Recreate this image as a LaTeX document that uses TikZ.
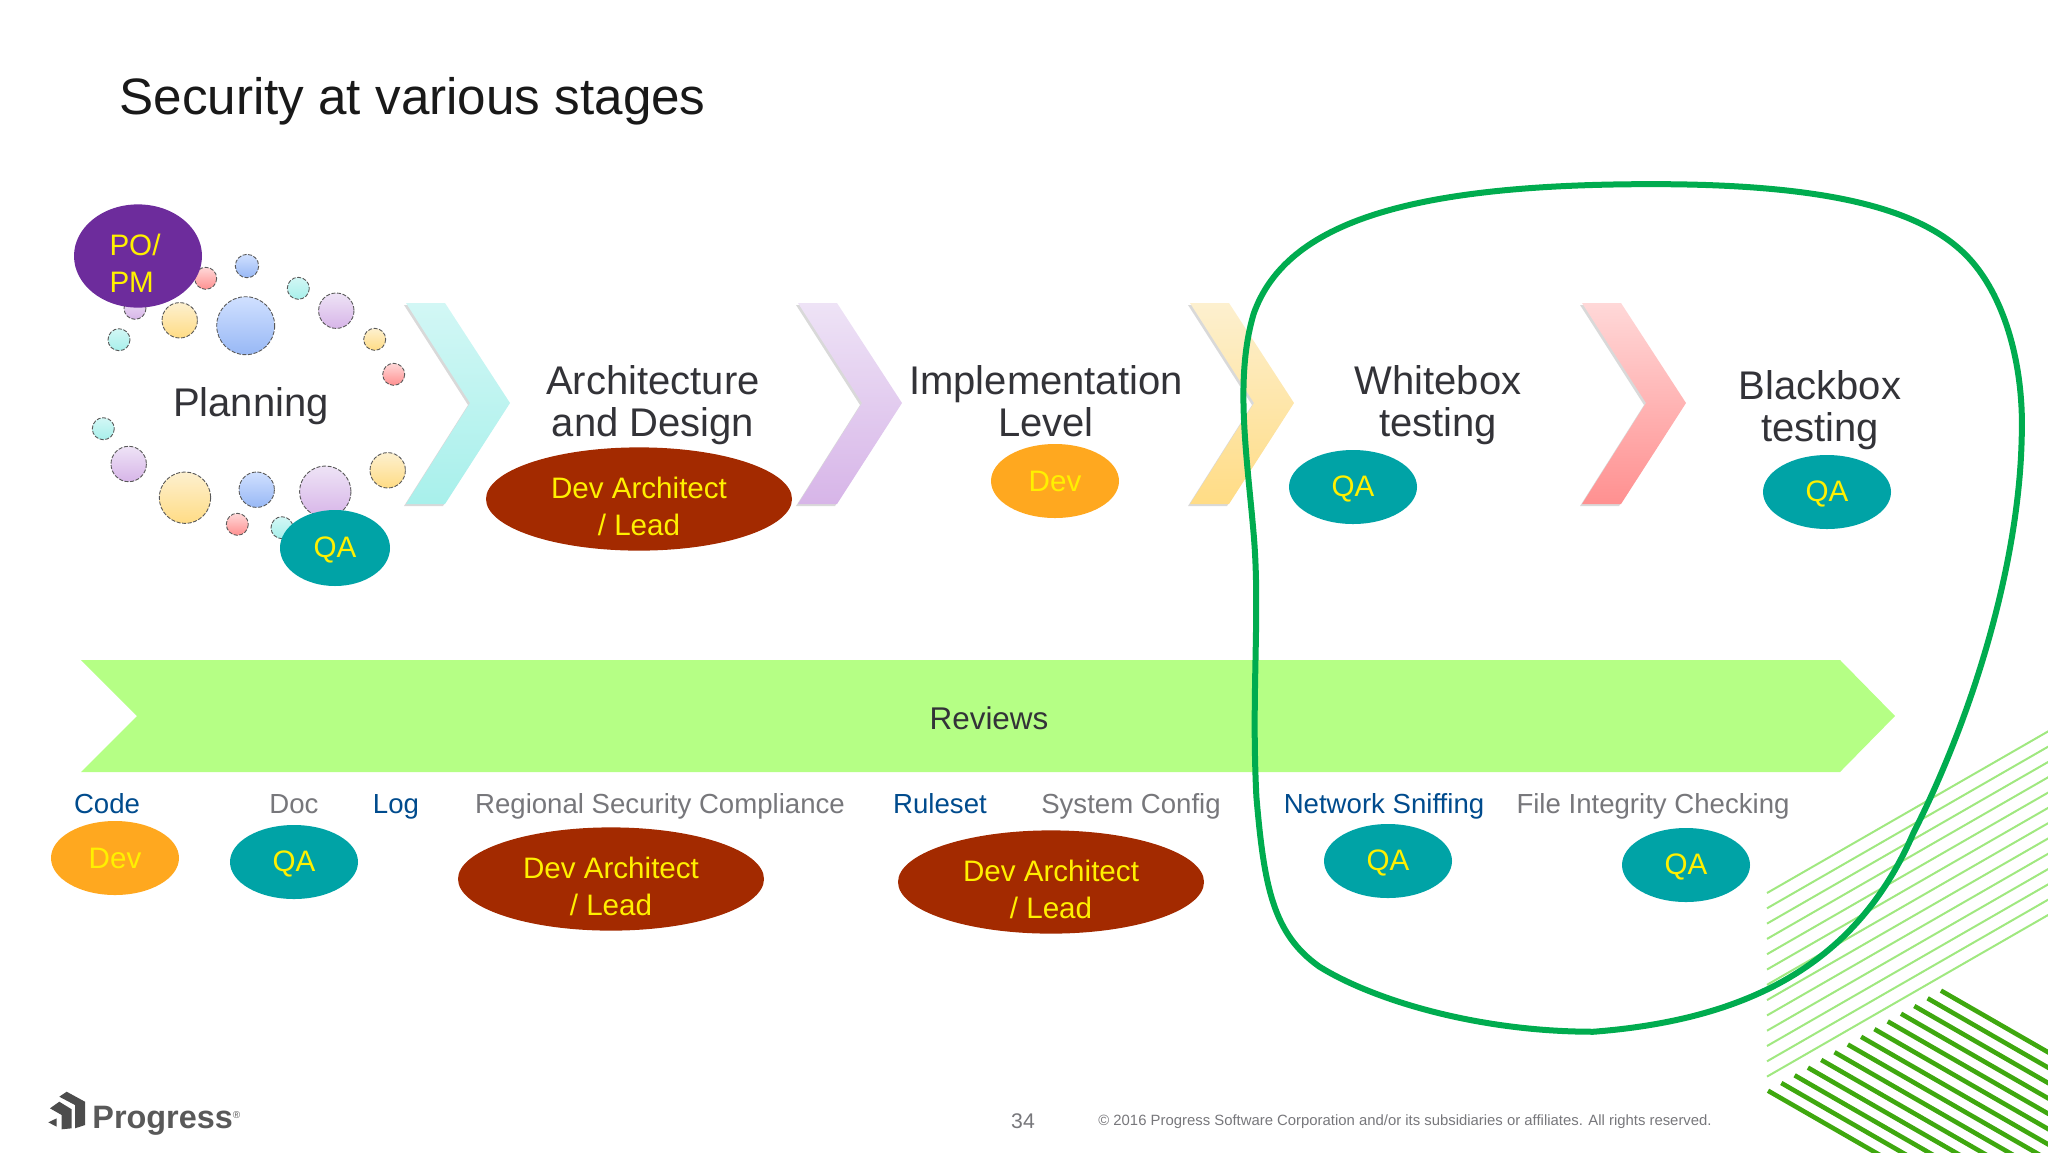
\documentclass[tikz,border=0pt]{standalone}
\usepackage{fontspec}
\usetikzlibrary{shapes.geometric}
\setmainfont{Liberation Sans}

\definecolor{darkTeal}{HTML}{00A3A6}
\definecolor{rust}{HTML}{A32A00}
\definecolor{amber}{HTML}{FFA81F}
\definecolor{violet}{HTML}{6D2C9C}
\definecolor{linkBlue}{HTML}{004B8D}
\definecolor{softGray}{HTML}{77777B}
\definecolor{inkGray}{HTML}{333338}
\definecolor{pen}{HTML}{FFF000}
\definecolor{blobGreen}{HTML}{00AC4F}
\definecolor{hatchLight}{HTML}{A0E880}
\definecolor{hatchDark}{HTML}{3FA80F}
\definecolor{cyanTop}{HTML}{D2F7F5}
\definecolor{cyanLow}{HTML}{A8F0EB}
\definecolor{purpleTop}{HTML}{EEE3F6}
\definecolor{purpleLow}{HTML}{D7B5E8}
\definecolor{yellowTop}{HTML}{FDF0CF}
\definecolor{yellowLow}{HTML}{FFDC85}
\definecolor{redTop}{HTML}{FFD8D8}
\definecolor{redLow}{HTML}{FF9090}
\definecolor{blueTop}{HTML}{D0E0FF}
\definecolor{blueLow}{HTML}{98B8F5}

\tikzset{
    role/.style={ellipse, inner sep=0pt, text=pen, align=center,
        font=\fontsize{14.8}{18.4}\selectfont},
    devArch/.style={role, fill=rust, minimum width=153pt, minimum height=51pt,
        text height=36.5pt, text depth=0pt},
    qaRole/.style={role, fill=darkTeal, minimum width=64pt, minimum height=37pt, text height=12.2pt},
    devRole/.style={role, fill=amber, minimum width=64pt, minimum height=37pt},
    stage/.style={text=inkGray, align=center, font=\fontsize{20}{20.9}\selectfont},
    topic/.style={anchor=base, font=\fontsize{13.8}{16}\selectfont},
    bubCyan/.style={top color=cyanTop, bottom color=cyanLow},
    bubRed/.style={top color=redTop, bottom color=redLow},
    bubBlue/.style={top color=blueTop, bottom color=blueLow},
    bubPurple/.style={top color=purpleTop, bottom color=purpleLow},
    bubYellow/.style={top color=yellowTop, bottom color=yellowLow},
}

\begin{document}
\begin{tikzpicture}[x=0.5pt, y=-0.5pt]
    \pgfmathsetmacro{\chevTop}{303}
    \pgfmathsetmacro{\chevMid}{403}
    \pgfmathsetmacro{\chevLow}{504}
    \useasboundingbox (0,0) rectangle (2048,1152);

    % hatching in the corner
    \begin{scope}
        \clip (0,0) rectangle (2048,1152);
        \foreach \i in {0,...,12}
            \draw[line width=1pt, hatchLight] (1767, 893 + 15.3*\i) -- ++(300, -172.5);
        \foreach \i in {0,...,13}
            \draw[line width=2.3pt, hatchDark] (1768 + 13.3*\i, 1090.7 - 7.7*\i) -- ++(400, 230);
    \end{scope}

    \node[anchor=west, inner sep=0pt, text=black!90, font=\fontsize{25.6}{30}\selectfont] (title) at (119,101)
        {Security at various stages};

    % bubbles round the planning label
    \foreach \cx/\cy/\r/\col in {205.7/278.3/11/bubRed, 247/266/11.7/bubBlue,
        298.3/288.3/11/bubCyan, 336.3/310.7/17.7/bubPurple, 374.7/339.3/11/bubYellow,
        393.7/374.3/11/bubRed, 245.7/325.7/29/bubBlue, 179.7/320.3/17.7/bubYellow,
        135/308.3/11/bubPurple, 119/339.7/11/bubCyan, 103.3/428.7/11/bubCyan,
        128.7/464/17.7/bubPurple, 185/497.7/25.7/bubYellow, 256.7/489.7/17.7/bubBlue,
        325.3/491.7/25.7/bubPurple, 387.7/470.3/17.7/bubYellow, 237.3/524.3/11/bubRed,
        282/527.7/11/bubCyan}
        \draw[\col, draw=black!65, line width=0.45pt, dash pattern=on 2pt off 0.8pt]
            (\cx,\cy) circle[radius=\r];

    % chevrons between the stages
    \foreach \x/\lo/\hi in {406/cyanTop/cyanLow, 798/purpleTop/purpleLow,
        1190/yellowTop/yellowLow, 1582/redTop/redLow} {
        \fill[black!15] (\x-2,\chevTop+2) -- (\x+37,\chevTop+2) -- (\x+102,\chevMid+2) --
            (\x+37,\chevLow+2) -- (\x-2,\chevLow+2) -- (\x+62,\chevMid+2) -- cycle;
        \shade[top color=\lo, bottom color=\hi] (\x,\chevTop) -- (\x+39,\chevTop) --
            (\x+104,\chevMid) -- (\x+39,\chevLow) -- (\x,\chevLow) -- (\x+64,\chevMid) -- cycle;
    }

    \node[stage] (planning) at (251,406) {Planning};
    \node[stage] (design) at (653,405) {Architecture\\and Design};
    \node[stage] (impl) at (1046,401) {Implementation\\Level};
    \node[stage] (whitebox) at (1438,405) {Whitebox\\testing};
    \node[stage] (blackbox) at (1820,410) {Blackbox\\testing};

    \node[role, fill=violet, minimum width=64pt, minimum height=51pt, text height=36.5pt,
        text depth=0pt, align=left] (poPm) at (138,256) {PO/\kern3pt\\PM};
    \node[qaRole, minimum width=55pt, minimum height=38pt] (qaPlan) at (335,548) {QA};
    \node[devArch] (archDesign) at (639,499) {Dev Architect\\/ Lead};
    \node[devRole] (devImpl) at (1055,481) {Dev};
    \node[qaRole] (qaWhite) at (1353,487) {QA};
    \node[qaRole] (qaBlack) at (1827,492) {QA};

    \fill[color={rgb,255:red,181;green,255;blue,133}] (81,660) -- (1840,660) -- (1895,716) --
        (1840,772) -- (81,772) -- (137,716) -- cycle;
    \node[text=inkGray, font=\fontsize{15.7}{18}\selectfont] (reviews) at (989,718) {Reviews};

    \node[topic, text=linkBlue] (code) at (107,813) {Code};
    \node[topic, text=softGray] (doc) at (294,813) {Doc};
    \node[topic, text=linkBlue] (log) at (396,813) {Log};
    \node[topic, text=softGray] (regional) at (660,813) {Regional Security Compliance};
    \node[topic, text=linkBlue] (ruleset) at (940,813) {Ruleset};
    \node[topic, text=softGray] (sysConfig) at (1131,813) {System Config};
    \node[topic, text=linkBlue] (sniffing) at (1384,813) {Network Sniffing};
    \node[topic, text=softGray] (integrity) at (1653,813) {File Integrity Checking};

    \node[devRole] (devCode) at (115,858) {Dev};
    \node[qaRole] (qaDoc) at (294,862) {QA};
    \node[devArch] (archReg) at (611,879) {Dev Architect\\/ Lead};
    \node[devArch] (archRule) at (1051,882) {Dev Architect\\/ Lead};
    \node[qaRole] (qaSniff) at (1388,861) {QA};
    \node[qaRole] (qaFile) at (1686,865) {QA};

    % loop round the last two stages
    \begin{scope}[scale=1.306]
        \draw[blobGreen, line width=3pt] (1265,141)
            .. controls (1400,141) and (1470,160) .. (1505,195)
            .. controls (1535,225) and (1550,280) .. (1548,335)
            .. controls (1546,430) and (1512,545) .. (1465,638)
            .. controls (1425,730) and (1350,780) .. (1220,790)
            .. controls (1130,790) and (1050,765) .. (1010,740)
            .. controls (975,715) and (968,680) .. (962,610)
            .. controls (958,530) and (965,470) .. (960,410)
            .. controls (955,350) and (945,290) .. (960,240)
            .. controls (985,170) and (1080,141) .. (1265,141) -- cycle;
    \end{scope}

    % logo and footer
    \fill[black!70] (66.7,1091.7) -- (85,1101.7) -- (85,1125) -- (75,1128.3) -- (75,1105) -- (59.3,1096.7) -- cycle;
    \fill[black!70] (59.3,1101.7) -- (71.7,1109.3) -- (71.7,1128.3) -- (61.7,1129.3) -- (61.7,1115) -- (50,1108.3) -- cycle;
    \fill[black!70] (48.3,1122.3) -- (56.7,1118.3) -- (56.7,1126.7) -- cycle;
    \node[anchor=west, inner sep=0pt, text=black!65, font=\bfseries\fontsize{16.2}{18}\selectfont] (logo) at (92,1121)
        {Progress\raisebox{5pt}{\fontsize{5}{5}\selectfont\mdseries®}};

    \node[text=softGray, font=\fontsize{10.6}{12}\selectfont] (pageNo) at (1023,1121) {34};
    \node[text=softGray, font=\fontsize{7.44}{9}\selectfont] (copyright) at (1405,1122)
        {© 2016 Progress Software Corporation and/or its subsidiaries or affiliates. All rights reserved.};
\end{tikzpicture}
\end{document}
